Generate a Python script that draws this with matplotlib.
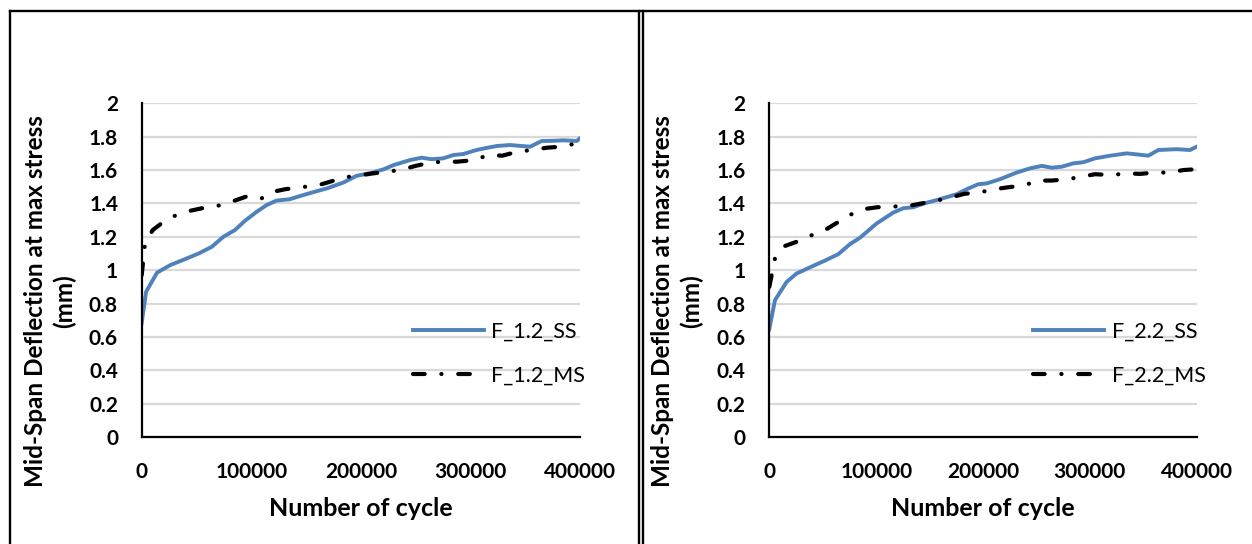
#!/usr/bin/env python

import matplotlib
matplotlib.use("Agg")
import matplotlib.pyplot as plt
from matplotlib.lines import Line2D

# F_1.2 panel
cycles_12_ss = [0, 4000, 14000, 26000, 41000, 52000, 64000, 74500, 85000, 95000,
                105000, 114000, 123000, 135000, 147500, 158000, 169000, 184000,
                196000, 211000, 221000, 230000, 245000, 255500, 264500, 275000,
                284500, 293500, 305500, 315000, 324000, 336000, 345000, 354500,
                365000, 375000, 385000, 397000, 400000]
defl_12_ss = [0.685, 0.87, 0.985, 1.03, 1.07, 1.10, 1.14, 1.20, 1.24, 1.30,
              1.35, 1.39, 1.417, 1.425, 1.45, 1.47, 1.49, 1.525,
              1.565, 1.585, 1.605, 1.63, 1.66, 1.674, 1.665, 1.67,
              1.69, 1.696, 1.72, 1.733, 1.744, 1.75, 1.745, 1.74,
              1.774, 1.775, 1.778, 1.774, 1.79]
cycles_12_ms = [0, 3000, 10000, 20000, 30000, 45000, 55000, 69000, 82000, 95000,
                108000, 120000, 131000, 145000, 160000, 172000, 185000, 196000,
                211000, 225000, 239000, 250000, 264000, 276000, 288000, 304000,
                316000, 329000, 343000, 356000, 370000, 383000, 397000, 400000]
defl_12_ms = [0.97, 1.16, 1.24, 1.29, 1.325, 1.357, 1.371, 1.385, 1.41, 1.44,
              1.425, 1.47, 1.485, 1.497, 1.507, 1.53, 1.557, 1.565,
              1.58, 1.59, 1.605, 1.625, 1.645, 1.65, 1.65, 1.66,
              1.69, 1.686, 1.71, 1.72, 1.734, 1.74, 1.76, 1.785]

# F_2.2 panel
cycles_22_ss = [0, 5300, 16300, 25600, 41200, 53000, 64600, 75500, 85000, 100500,
                116000, 125400, 134800, 145000, 156700, 175400, 184700, 195600,
                203500, 215900, 231500, 244000, 255000, 264300, 273700, 284500,
                294000, 304800, 319000, 334500, 345000, 354700, 364100, 381300,
                393700, 400000]
defl_22_ss = [0.647, 0.82, 0.93, 0.98, 1.026, 1.06, 1.096, 1.156, 1.195, 1.28,
              1.345, 1.371, 1.377, 1.40, 1.42, 1.455, 1.485, 1.515,
              1.52, 1.545, 1.585, 1.61, 1.625, 1.614, 1.62, 1.64,
              1.647, 1.67, 1.686, 1.70, 1.693, 1.686, 1.72, 1.725,
              1.72, 1.74]
cycles_22_ms = [0, 5300, 14700, 25600, 38700, 52100, 63600, 74900, 89600, 101100,
                115500, 130100, 142600, 156700, 170700, 182200, 197200, 211200,
                223700, 237700, 251800, 264300, 278900, 292400, 304800, 319800,
                334500, 347000, 361000, 375000, 387500, 400000]
defl_22_ms = [0.90, 1.07, 1.145, 1.17, 1.207, 1.24, 1.285, 1.33, 1.367, 1.377,
              1.381, 1.385, 1.40, 1.417, 1.437, 1.457, 1.467, 1.485,
              1.497, 1.507, 1.537, 1.537, 1.545, 1.56, 1.575, 1.57,
              1.58, 1.577, 1.585, 1.585, 1.60, 1.605]

x_ticks = [0, 100000, 200000, 300000, 400000]
y_ticks = [0, 0.2, 0.4, 0.6, 0.8, 1, 1.2, 1.4, 1.6, 1.8, 2]
y_tick_labels = ["0", "0.2", "0.4", "0.6", "0.8", "1", "1.2", "1.4", "1.6", "1.8", "2"]

panels = [
    ("F_1.2_SS", cycles_12_ss, defl_12_ss, "F_1.2_MS", cycles_12_ms, defl_12_ms),
    ("F_2.2_SS", cycles_22_ss, defl_22_ss, "F_2.2_MS", cycles_22_ms, defl_22_ms),
]

W, H = 1252, 544
FONT = "Lato"


def px_rect(x0, y0, x1, y1):
    # pixel box (top-left origin) -> figure fraction rect
    return [x0 / W, 1 - y1 / H, (x1 - x0) / W, (y1 - y0) / H]


def main():
    plt.rcParams["font.family"] = [FONT, "DejaVu Sans"]
    fig = plt.figure(figsize=(W / 100, H / 100), dpi=100)

    axes_px = [(141.7, 103.3, 580.0, 437.0), (769.3, 103.3, 1196.7, 437.0)]

    for (lab_ss, x_ss, y_ss, lab_ms, x_ms, y_ms), box in zip(panels, axes_px):
        ax = fig.add_axes(px_rect(*box))
        ax.plot(x_ss, y_ss, color="#4F81BD", lw=2.8, label=lab_ss,
                solid_joinstyle="round", zorder=3)
        ms, = ax.plot(x_ms, y_ms, color="black", lw=3.0, label=lab_ms, zorder=4)
        ms.set_dashes((2.8, 4.0, 0.05, 4.0))
        ms.set_dash_capstyle("round")

        ax.set_xlim(0, 400000)
        ax.set_ylim(0, 2)
        ax.set_xticks(x_ticks)
        ax.set_xticklabels([str(t) for t in x_ticks])
        ax.set_yticks(y_ticks)
        ax.set_yticklabels(y_tick_labels)
        ax.tick_params(length=0, labelsize=15)
        ax.tick_params(axis="y", pad=17)
        ax.tick_params(axis="x", pad=18)
        for lbl in ax.get_xticklabels() + ax.get_yticklabels():
            lbl.set_fontweight("bold")

        ax.grid(axis="y", color="#D9D9D9", lw=1.6)
        ax.set_axisbelow(True)
        for side in ("top", "right"):
            ax.spines[side].set_visible(False)
        for side in ("left", "bottom"):
            ax.spines[side].set_linewidth(1.6)
            ax.spines[side].set_color("black")
            ax.spines[side].set_zorder(5)

        ax.legend(loc="center left", bbox_to_anchor=(0.618, 0.25), frameon=False,
                  fontsize=15.5, handlelength=3.3, handletextpad=0.35,
                  labelspacing=1.1, borderpad=0, borderaxespad=0)

        cx = (box[0] + box[2]) / 2
        fig.text(cx / W, 1 - 508 / H, "Number of cycle", ha="center", va="center",
                 fontsize=18, fontweight="bold")
        fig.text((box[0] - 92) / W, 1 - 301 / H,
                 "Mid-Span Deflection at max stress\n(mm)", rotation=90,
                 ha="center", va="center", multialignment="center",
                 fontsize=17.5, fontweight="bold", linespacing=1.3)

    # chart frames
    lk = dict(color="black", lw=1.7, transform=fig.transFigure)
    fig.add_artist(Line2D([10 / W, 1], [1 - 11 / H] * 2, **lk))
    fig.add_artist(Line2D([10 / W] * 2, [0, 1 - 11 / H], **lk))
    fig.add_artist(Line2D([639 / W] * 2, [0, 1 - 11 / H], **lk))
    fig.add_artist(Line2D([643 / W] * 2, [0, 1 - 11 / H], **lk))

    fig.savefig("out.png", dpi=100)


if __name__ == "__main__":
    main()
